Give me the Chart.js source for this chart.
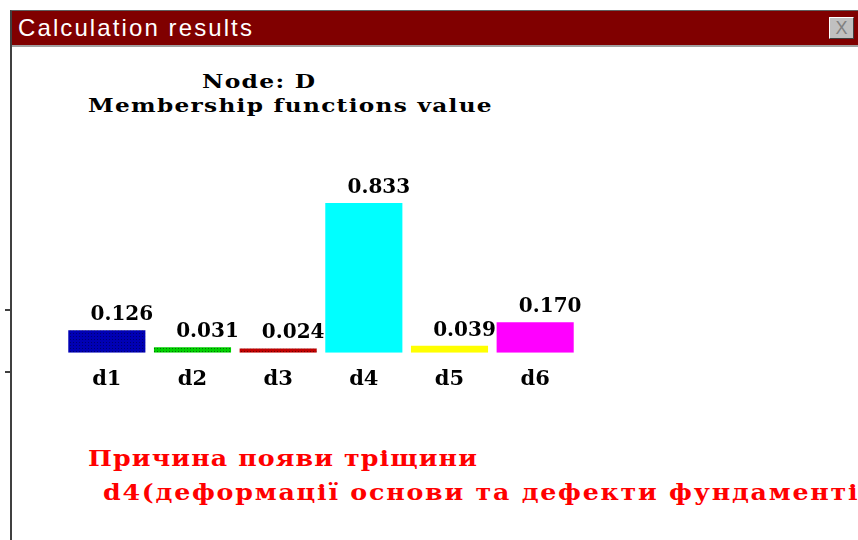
<!DOCTYPE html>
<html>
<head>
<meta charset="utf-8">
<script src="https://cdn.jsdelivr.net/npm/chart.js@4.4.1/dist/chart.umd.min.js"></script>
<style>
  body { margin: 0; width: 858px; height: 540px; background: #fff; overflow: hidden; position: relative; }
  .win { position: absolute; left: 10px; top: 10px; right: 0; bottom: 0; border-left: 2px solid #404040; border-top: 1px solid #606060; }
  .caption { position: absolute; left: 12px; top: 11px; width: 846px; height: 34px; background: #800000; }
  .caption span { position: absolute; left: 6px; top: 3px; color: #fff; font: 24px "Liberation Sans", Arial, sans-serif; letter-spacing: 2.1px; }
  .close { position: absolute; left: 829px; top: 17px; width: 25px; height: 22px; background: #c0c0c0; border: 1px solid #fff; border-right-color: #404040; border-bottom-color: #404040; box-sizing: border-box; color: #808080; font: 18px "Liberation Sans", sans-serif; text-align: center; line-height: 20px; }
  .sep { position: absolute; left: 12px; top: 45px; width: 846px; height: 2px; background: #a0a0a0; }
  .txt { position: absolute; font-family: "DejaVu Serif", serif; font-weight: bold; white-space: nowrap; color: #000; transform-origin: 0 0; }
  .red { color: #ff0000; }
  .tick { position: absolute; left: 5px; width: 5px; height: 2px; background: #404040; }
  #chart { position: absolute; left: 64px; top: 150px; }
</style>
</head>
<body>
<div class="win"></div>
<div class="caption"><span>Calculation results</span></div>
<div class="close">X</div>
<div class="sep"></div>
<div class="tick" style="top:309px"></div>
<div class="tick" style="top:371px"></div>

<div class="txt" id="nodeTitle" style="left:202px; top:71px; font-size:18px; letter-spacing:1px; transform:scaleX(1.3);"></div>
<div class="txt" id="subTitle" style="left:88px; top:95px; font-size:18px; letter-spacing:1px; transform:scaleX(1.29);"></div>
<div class="txt red" id="cause1" style="left:88px; top:444px; font-size:23px; letter-spacing:1px; transform:scaleX(1.1);"></div>
<div class="txt red" id="cause2" style="left:103px; top:478px; font-size:23px; letter-spacing:1.6px; transform:scaleX(1.1);"></div>

<canvas id="chart" width="544" height="256"></canvas>

<script>
const nodeName = 'Node: D';
const chartTitle = 'Membership functions value';
const categories = ['d1', 'd2', 'd3', 'd4', 'd5', 'd6'];
const values = [0.126, 0.031, 0.024, 0.833, 0.039, 0.170];
const barColors = ['#0000b4', '#00c800', '#b40000', '#00ffff', '#ffff00', '#ff00ff'];
const causeText = ['Причина появи тріщини', 'd4(деформації основи та дефекти фундаментів)'];

document.getElementById('nodeTitle').textContent = nodeName;
document.getElementById('subTitle').textContent = chartTitle;
document.getElementById('cause1').textContent = causeText[0];
document.getElementById('cause2').textContent = causeText[1];

const ctx = document.getElementById('chart').getContext('2d');

// dotted fill like the old bitmap bars
function dotted(color, dot) {
    const c = document.createElement('canvas');
    c.width = 3; c.height = 3;
    const g = c.getContext('2d');
    g.fillStyle = color;
    g.fillRect(0, 0, 3, 3);
    g.fillStyle = dot;
    g.fillRect(0, 0, 1, 1);
    return ctx.createPattern(c, 'repeat');
}

const fills = barColors.slice();
fills[0] = dotted('#0000b4', '#000070');
fills[1] = dotted('#00d000', '#007000');
fills[2] = dotted('#c00000', '#700000');

// value labels above the bars
const valueLabels = {
    id: 'valueLabels',
    afterDatasetsDraw(chart) {
        const c = chart.ctx;
        const meta = chart.getDatasetMeta(0);
        c.save();
        c.font = 'bold 20px "DejaVu Serif", serif';
        c.fillStyle = '#000';
        c.textAlign = 'center';
        c.textBaseline = 'alphabetic';
        meta.data.forEach((bar, i) => {
            c.fillText(values[i].toFixed(3), bar.x + 15, bar.y - 10);
        });
        c.restore();
    }
};

new Chart(ctx, {
    type: 'bar',
    data: {
        labels: categories,
        datasets: [{
            data: values,
            backgroundColor: fills,
            borderWidth: 0,
            barPercentage: 0.9,
            categoryPercentage: 1
        }]
    },
    options: {
        responsive: false,
        animation: false,
        layout: { padding: { top: 23, left: 0, right: 30, bottom: 0 } },
        plugins: {
            legend: { display: false },
            tooltip: { enabled: false }
        },
        scales: {
            y: { display: false, min: 0, max: 1 },
            x: {
                grid: { display: false, drawTicks: false },
                border: { display: false },
                ticks: {
                    color: '#000',
                    padding: 14,
                    font: { family: '"DejaVu Serif", serif', size: 21, weight: 'bold' }
                }
            }
        }
    },
    plugins: [valueLabels]
});
</script>
</body>
</html>
